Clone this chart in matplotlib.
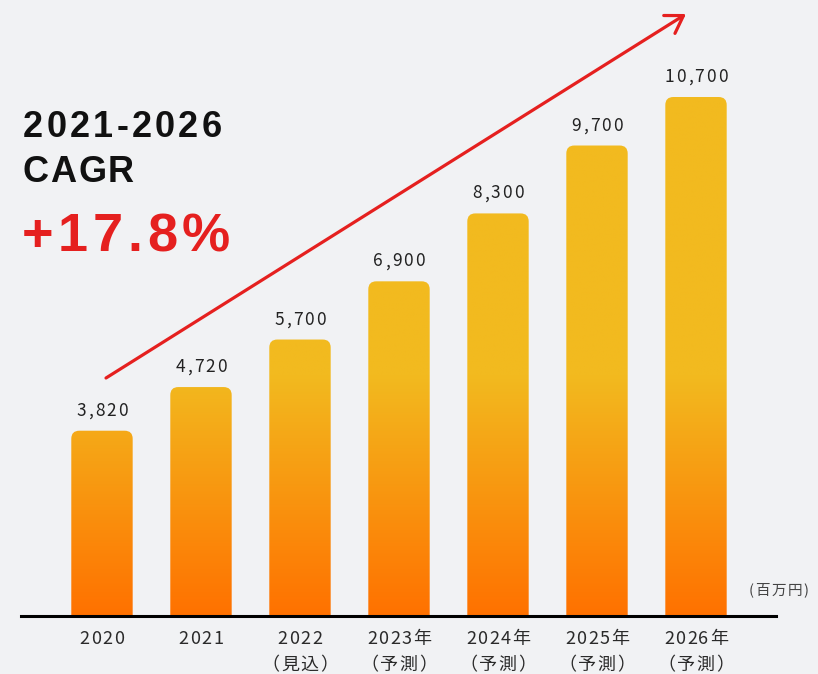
import numpy as np
import matplotlib
matplotlib.use("Agg")
import matplotlib.pyplot as plt
from matplotlib.font_manager import FontProperties, findfont, get_font
from matplotlib.patches import FancyBboxPatch, FancyArrowPatch
from matplotlib.transforms import IdentityTransform
from matplotlib.colors import to_rgb

# sales by year (百万円)
years = ["2020", "2021", "2022", "2023年", "2024年", "2025年", "2026年"]
notes = ["", "", "（見込）", "（予測）", "（予測）", "（予測）", "（予測）"]
sales = [3820, 4720, 5700, 6900, 8300, 9700, 10700]

cagr_period = "2021-2026"
cagr_title = "CAGR"
cagr_value = "+17.8%"
unit_label = "(百万円)"

W, H = 818, 674
BG = "#F1F2F4"
YELLOW = np.array(to_rgb("#F2BA1F"))
ORANGE = np.array(to_rgb("#FF7100"))
RED = "#E5201F"
JP = "Noto Sans CJK JP"

fig = plt.figure(figsize=(W / 100, H / 100), dpi=100, facecolor=BG)
ax = fig.add_axes([21 / W, 58 / H, 755 / W, 616 / H])
ax.set_axis_off()


def tracked(x, y, s, size, track, family, weight="normal", color="#222222", ha="left"):
    """Draw s glyph by glyph (display pixels, y = baseline) with extra letter spacing."""
    prop = FontProperties(family=family, weight=weight, size=size)
    font = get_font(findfont(prop))
    font.set_size(size, fig.dpi)
    advances = [font.load_char(ord(ch)).linearHoriAdvance / 65536 for ch in s]
    total = sum(advances) + track * (len(s) - 1)
    if ha == "center":
        x -= total / 2
    for ch, adv in zip(s, advances):
        # agg puts the glyph origin at the anchor of a left-aligned text
        fig.text(x, y, ch, fontproperties=prop, color=color,
                 ha="left", va="baseline", transform=IdentityTransform())
        x += adv + track


x = np.arange(len(sales))
ax.set_xlim(-0.818, 6.808)
ax.set_ylim(0, 12700)
bars = ax.bar(x, sales, width=0.62, color="none", edgecolor="none")

# pixel scale of the data axes, used for the rounded tops
bbox = ax.get_window_extent()
px_x = bbox.width / np.ptp(ax.get_xlim())
px_y = bbox.height / np.ptp(ax.get_ylim())
radius = 8 / px_x
aspect = px_x / px_y

# vertical gradient: orange at the baseline, yellow from ~39% of the height up
ytop = ax.get_ylim()[1]
ys = np.linspace(0, ytop, 500)
t = np.clip(ys / (0.39 * ytop), 0, 1)[:, None]
grad = (ORANGE * (1 - t) + YELLOW * t)[:, None, :]

for b in bars:
    bx, bw, bh = b.get_x(), b.get_width(), b.get_height()
    shape = FancyBboxPatch((bx, -400), bw, bh + 400,
                           boxstyle=f"round,pad=0,rounding_size={radius}",
                           mutation_aspect=aspect, fc="none", ec="none")
    ax.add_patch(shape)
    im = ax.imshow(grad, extent=(bx, bx + bw, 0, ytop), origin="lower",
                   aspect="auto", interpolation="bilinear")
    im.set_clip_path(shape)

ax.set_xlim(-0.818, 6.808)
ax.set_ylim(0, 12700)
ax.axhline(0, color="black", lw=2.2, clip_on=False, zorder=5)

# value labels above the bars
for b, v in zip(bars, sales):
    cx, top = ax.transData.transform((b.get_x() + b.get_width() / 2, v))
    tracked(cx, top + 15, f"{v:,}", 12.5, 2, JP, color="#222222", ha="center")

# two-line category labels under the baseline
for i, (yr, nt) in enumerate(zip(years, notes)):
    cx, _ = ax.transData.transform((i, 0))
    tracked(cx, H - 644, yr, 13, 1.5, JP, color="#2a2a2a", ha="center")
    if nt:
        tracked(cx, H - 670, nt, 13, 1.5, JP, color="#2a2a2a", ha="center")

tracked(749, H - 595, unit_label, 10.5, 1.5, JP, color="#444444")

# CAGR callout
tracked(23, H - 137, cagr_period, 26, 3.2, "Liberation Sans", weight="bold", color="#111111")
tracked(23, H - 182, cagr_title, 26, 1.5, "Liberation Sans", weight="bold", color="#111111")
tracked(22, H - 251, cagr_value, 39, 4.5, "Liberation Sans", weight="bold", color=RED)

arrow = FancyArrowPatch((106, H - 378), (686, H - 14), transform=IdentityTransform(),
                        arrowstyle="->,head_length=0.6,head_width=0.38", mutation_scale=20,
                        lw=2.3, color=RED, shrinkA=0, shrinkB=0)
fig.add_artist(arrow)

fig.savefig("out.png", dpi=100, facecolor=BG)
